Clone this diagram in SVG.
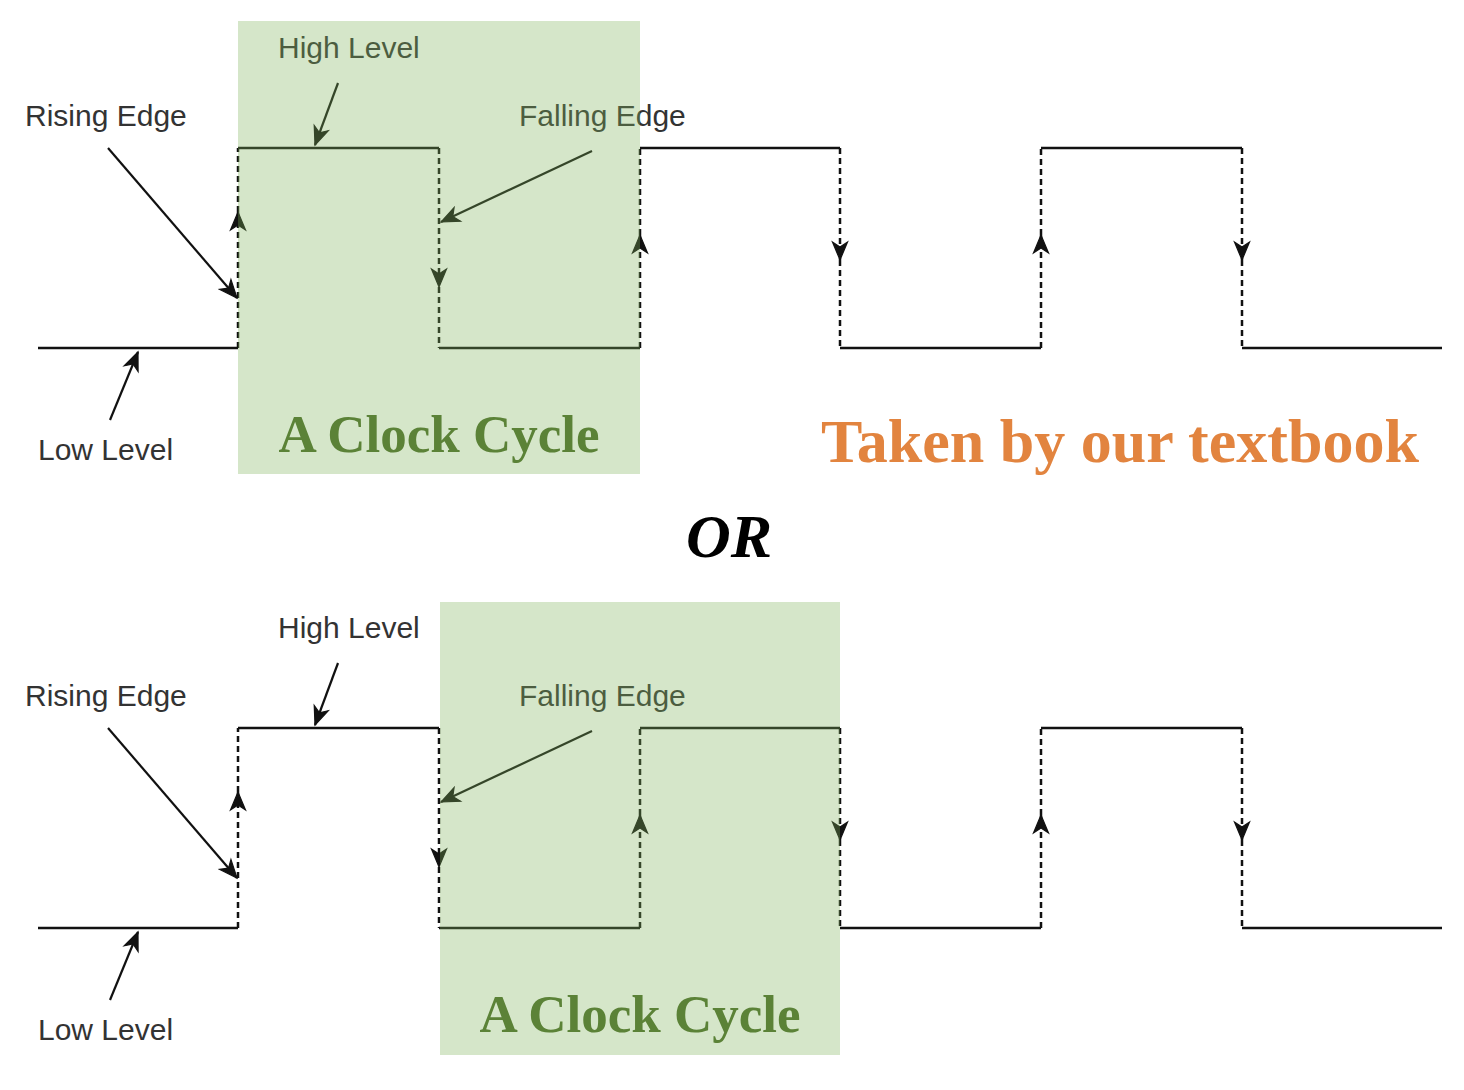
<svg xmlns="http://www.w3.org/2000/svg" width="1464" height="1090" viewBox="0 0 1464 1090">
<defs>
<marker id="ah" viewBox="-20 -9 22 18" refX="0" refY="0" markerWidth="22" markerHeight="18" markerUnits="userSpaceOnUse" orient="auto">
<path d="M0,0 L-18,-7.5 L-13,0 L-18,7.5 Z" fill="#111" stroke="#111" stroke-width="1.2" stroke-linejoin="miter"/>
</marker>
</defs>
<style>
.lvl{fill:none;stroke:#111;stroke-width:2.5}
.edge{fill:none;stroke:#111;stroke-width:2.5;stroke-dasharray:6 4}
.ann{fill:none;stroke:#111;stroke-width:2.2}
.lbl{font-family:"Liberation Sans",Arial,sans-serif;font-size:30px;fill:#333}
.cyc{fill:#7fb35b;fill-opacity:0.33}
.cyct{font-family:"Liberation Serif","Times New Roman",serif;font-weight:bold;font-size:53px;fill:#5b8237}
</style>
<rect x="0" y="0" width="1464" height="1090" fill="#fff"/>

<g id="top-waveform">
<path class="lvl" d="M38,348 H238 M238,148 H439 M439,348 H640 M640,148 H840 M840,348 H1041 M1041,148 H1242 M1242,348 H1442"/>
</g>
<g id="top-connectors">
<path class="edge" d="M238,348 V212" marker-end="url(#ah)"/><path class="edge" d="M238,212 V148"/>
<path class="edge" d="M439,148 V287" marker-end="url(#ah)"/><path class="edge" d="M439,287 V348"/>
<path class="edge" d="M640,348 V235" marker-end="url(#ah)"/><path class="edge" d="M640,235 V148"/>
<path class="edge" d="M840,148 V260" marker-end="url(#ah)"/><path class="edge" d="M840,260 V348"/>
<path class="edge" d="M1041,348 V235" marker-end="url(#ah)"/><path class="edge" d="M1041,235 V148"/>
<path class="edge" d="M1242,148 V260" marker-end="url(#ah)"/><path class="edge" d="M1242,260 V348"/>
<path class="ann" d="M108,148 L237,298" marker-end="url(#ah)"/>
<path class="ann" d="M338,83 L315,145" marker-end="url(#ah)"/>
<path class="ann" d="M592,151 L441,222" marker-end="url(#ah)"/>
<path class="ann" d="M110,420 L138,352" marker-end="url(#ah)"/>
</g>
<g id="top-labels">
<text class="lbl" x="25" y="126">Rising Edge</text>
<text class="lbl" x="278" y="58">High Level</text>
<text class="lbl" x="519" y="126">Falling Edge</text>
<text class="lbl" x="38" y="460">Low Level</text>
</g>
<g id="top-cycle">
<rect class="cyc" x="238" y="21" width="402" height="453"/>
<text class="cyct" x="439" y="452" text-anchor="middle">A Clock Cycle</text>
</g>
<g id="note">
<text x="1120" y="462" text-anchor="middle" font-family="'Liberation Serif','Times New Roman',serif" font-weight="bold" font-size="62" fill="#e2843f">Taken by our textbook</text>
</g>
<g id="or">
<text x="729" y="557" text-anchor="middle" font-family="'Liberation Serif','Times New Roman',serif" font-weight="bold" font-style="italic" font-size="62" fill="#000">OR</text>
</g>

<g id="bottom-waveform">
<path class="lvl" d="M38,928 H238 M238,728 H439 M439,928 H640 M640,728 H840 M840,928 H1041 M1041,728 H1242 M1242,928 H1442"/>
</g>
<g id="bottom-connectors">
<path class="edge" d="M238,928 V792" marker-end="url(#ah)"/><path class="edge" d="M238,792 V728"/>
<path class="edge" d="M439,728 V867" marker-end="url(#ah)"/><path class="edge" d="M439,867 V928"/>
<path class="edge" d="M640,928 V815" marker-end="url(#ah)"/><path class="edge" d="M640,815 V728"/>
<path class="edge" d="M840,728 V840" marker-end="url(#ah)"/><path class="edge" d="M840,840 V928"/>
<path class="edge" d="M1041,928 V815" marker-end="url(#ah)"/><path class="edge" d="M1041,815 V728"/>
<path class="edge" d="M1242,728 V840" marker-end="url(#ah)"/><path class="edge" d="M1242,840 V928"/>
<path class="ann" d="M108,728 L237,878" marker-end="url(#ah)"/>
<path class="ann" d="M338,663 L315,725" marker-end="url(#ah)"/>
<path class="ann" d="M592,731 L441,802" marker-end="url(#ah)"/>
<path class="ann" d="M110,1000 L138,932" marker-end="url(#ah)"/>
</g>
<g id="bottom-labels">
<text class="lbl" x="25" y="706">Rising Edge</text>
<text class="lbl" x="278" y="638">High Level</text>
<text class="lbl" x="519" y="706">Falling Edge</text>
<text class="lbl" x="38" y="1040">Low Level</text>
</g>
<g id="bottom-cycle">
<rect class="cyc" x="440" y="602" width="400" height="453"/>
<text class="cyct" x="640" y="1032" text-anchor="middle">A Clock Cycle</text>
</g>
</svg>
